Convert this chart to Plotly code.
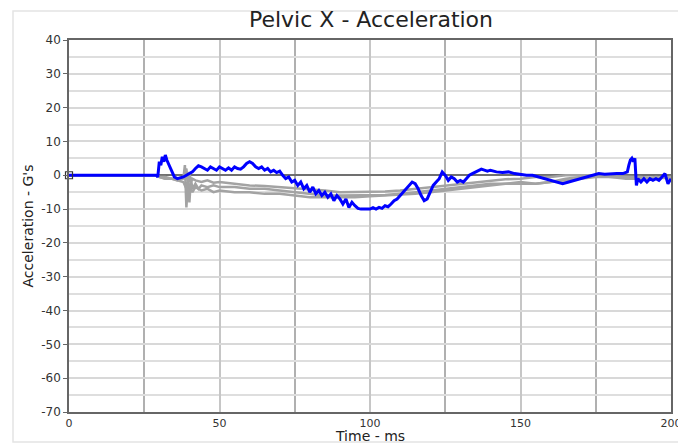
import plotly.graph_objects as go

# ---- data ----
blue_t = [0, 29, 29.5, 30, 30.5, 31, 31.5, 32, 32.5, 33, 34, 35, 36, 37, 38, 39, 40, 41, 42, 43, 44, 45, 46, 47, 48, 49,
          50, 51, 52, 53, 54, 55, 56, 57, 58, 59, 60, 61, 62, 63, 64, 65, 66, 67, 68, 69, 70, 71, 72, 73, 74, 75, 76, 77,
          78, 79, 80, 81, 82, 83, 84, 85, 86, 87, 88, 89, 90, 91, 92, 93, 94, 95, 96, 97, 98, 99, 100, 101, 102, 103,
          104, 105, 106, 107, 108, 109, 110, 111, 112, 113, 114, 115, 116, 117, 118, 119, 120, 121, 122, 123, 124, 125,
          126, 127, 128, 129, 130, 131, 132, 133, 134, 135, 136, 137, 138, 139, 140, 142, 144, 146, 148, 150, 152, 154,
          156, 158, 160, 162, 164, 166, 168, 170, 172, 174, 176, 178, 180, 182, 184, 185.5, 186, 186.5, 187, 187.5, 188,
          188.5, 189, 190, 191, 192, 193, 194, 195, 196, 197, 198, 199, 200]
blue_v = [0, 0, -0.5, 4, 3, 5.5, 4, 6, 4.5, 3.5, 1.5, -0.5, -1, -0.8, -0.5, 0, 0.5, 1, 2, 2.8, 2.5, 2, 1.5, 2.5, 2, 1.5,
          2.5, 2, 1.5, 2.2, 1.5, 2.5, 2, 1.8, 2.5, 3.5, 4, 3.5, 2.5, 2, 2.5, 1.5, 2, 1, 1.5, 0.8, 1.2, 0, -1, -0.5, -2,
          -1.5, -3, -2, -4, -3, -5, -3.5, -5.5, -4.5, -6, -5, -6.5, -5.5, -7.5, -6, -7, -8.5, -7, -9.5, -8, -9, -9.8,
          -10, -10, -9.8, -10, -9.6, -10, -9.5, -9.8, -9, -9.3, -8.5, -7.5, -7, -6, -5, -4, -3, -2, -2.5, -4, -6, -7.5,
          -7, -5, -3, -2, -1, 1, 0, -1.5, -0.5, -1, -2, -1.5, -2, -1, 0, 0.5, 1, 1.5, 1.8, 1.5, 1.2, 1.5, 1, 0.8, 1,
          0.5, 0.2, 0, 0, -0.5, -1, -1.5, -2, -2.5, -2, -1.5, -1, -0.5, 0, 0.5, 0.3, 0.5, 0.5, 0.5, 1, 3, 4.5, 5, 4, 5,
          -3, -1, -2, -1, -2, -1, -1.5, -1, -1.5, -0.5, 0.5, -2.5, -1]

gray1_t = [0, 29, 30, 32, 34, 36, 38, 39, 39.5, 40, 40.5, 41, 42, 44, 46, 48, 50, 55, 60, 65, 70, 75, 80, 85, 90, 95,
           100, 105, 110, 115, 120, 125, 130, 135, 140, 145, 150, 155, 160, 165, 170, 175, 180, 185, 190, 195, 200]
gray1_v = [0, 0, -0.5, -0.5, -1, -1, -0.5, 2, -3, 1, -2, -1, -1.5, -2, -1.5, -2.2, -2, -2.5, -3, -3.2, -3.5, -3.8, -4.2,
           -4.5, -5, -5, -5, -4.8, -4.5, -4, -3.5, -3, -2.5, -2, -1.5, -1.2, -1, -0.5, -0.5, 0, 0, 0, -0.3, -0.5, -0.5,
           -0.8, -0.5]

gray2_t = [0, 29, 30, 32, 34, 36, 38, 38.5, 39, 39.5, 40, 40.5, 41, 42, 43, 44, 46, 48, 50, 55, 60, 65, 70, 75, 80, 85,
           90, 95, 100, 105, 110, 115, 120, 125, 130, 135, 140, 145, 150, 155, 160, 165, 170, 175, 180, 185, 190, 195, 200]
gray2_v = [0, 0, -0.5, -1, -1, -1.5, -1, 3, -9.5, -2, -8, -1, -4, -2.5, -4, -3, -3.5, -3, -3.5, -3.5, -4, -4, -4.5, -5,
           -5.5, -6, -6, -6, -6, -5.8, -5.5, -5, -4.5, -4, -3.5, -3, -2.5, -2.5, -2, -2.5, -2, -1, -0.5, 0, -0.5, -1,
           -1, -0.5, -1]

gray3_t = [0, 29, 30, 32, 34, 36, 38, 39, 40, 41, 42, 44, 46, 48, 50, 55, 60, 65, 70, 75, 80, 85, 90, 95, 100, 105,
           110, 115, 120, 125, 130, 135, 140, 145, 150, 155, 160, 165, 170, 175, 180, 185, 190, 195, 200]
gray3_v = [0, 0, -0.5, -1, -1, -1.5, -2, -4, -3, -5, -3.5, -4.5, -4, -5, -4.5, -5, -5, -5.5, -5.5, -6, -6.5, -6.5, -6.5,
           -6.5, -6.2, -6, -5.8, -5.5, -5, -4.5, -4, -3.5, -3, -2.5, -2.5, -2.5, -2, -1.5, -1, -0.5, -0.5, -0.5, -0.5,
           -1, -0.5]

x_ticks = [0, 50, 100, 150, 200]
y_ticks = [40, 30, 20, 10, 0, -10, -20, -30, -40, -50, -60, -70]

title_text = "Pelvic X - Acceleration"
x_title = "Time - ms"
y_title = "Acceleration - G's"

GRAY = "#a3a3a3"
BLUE = "#0000ff"

# the page body has an 8px margin, so the figure is sized to fit the window from (8, 8)
W, H = 678, 437
ML, MR, MT, MB = 61, 15, 32, 33

fig = go.Figure()
for t, v in [(gray1_t, gray1_v), (gray2_t, gray2_v), (gray3_t, gray3_v)]:
    fig.add_trace(go.Scatter(x=t, y=v, mode="lines", line=dict(color=GRAY, width=2.5), showlegend=False,
                             hoverinfo="skip"))
fig.add_trace(go.Scatter(x=blue_t, y=blue_v, mode="lines", line=dict(color=BLUE, width=3), showlegend=False))
fig.add_trace(go.Scatter(x=[blue_t[0]], y=[blue_v[0]], mode="markers",
                         marker=dict(symbol="square-open", size=7, color="#333333", line=dict(width=1.2)),
                         showlegend=False, cliponaxis=False))

font_family = "DejaVu Sans, Arial, sans-serif"

fig.update_layout(
    width=W, height=H,
    margin=dict(l=ML, r=MR, t=MT, b=MB, autoexpand=False),
    paper_bgcolor="white", plot_bgcolor="white",
    title=dict(text=title_text, x=363 / W, xanchor="center", y=1 - 11 / H, yanchor="middle",
               font=dict(family=font_family, size=22, color="#222222")),
    font=dict(family=font_family, color="#333333"),
)
fig.update_xaxes(
    automargin=False,
    range=[0, 200], tickvals=x_ticks, ticktext=[str(v) for v in x_ticks],
    showgrid=True, gridcolor="#c6c6c6", gridwidth=1.5,
    minor=dict(dtick=25, showgrid=True, gridcolor="#b0b0b0", gridwidth=1.5),
    showline=True, linecolor="#666666", linewidth=1.5, mirror=True,
    ticks="",
    tickfont=dict(size=11, color="#333333"),
    zeroline=False,
)
fig.update_yaxes(
    automargin=False,
    range=[-70, 40], tickvals=y_ticks, ticktext=[str(v) for v in y_ticks],
    showgrid=True, gridcolor="#d8d8d8", gridwidth=1.5,
    minor=dict(dtick=5, showgrid=True, gridcolor="#dedede", gridwidth=1.5),
    showline=True, linecolor="#666666", linewidth=1.5, mirror=True,
    ticks="outside", ticklen=4, tickcolor="#666666",
    tickfont=dict(size=12, color="#333333"),
    title=dict(text=y_title, font=dict(size=14, color="#222222"), standoff=4),
    zeroline=True, zerolinecolor="#707070", zerolinewidth=1.5,
)
# x-axis title placed just under the tick labels
fig.add_annotation(text=x_title, xref="paper", yref="paper", x=0.5, y=-24 / 372, xanchor="center",
                   yanchor="middle", showarrow=False, font=dict(family=font_family, size=14, color="#222222"))
fig.add_shape(type="rect", xref="paper", yref="paper", x0=-56 / 602, x1=1 + 12 / 602, y0=-30 / 372, y1=1 + 29 / 372,
              line=dict(color="#e4e4e4", width=1.5), layer="below")

fig.write_html("out.html")
